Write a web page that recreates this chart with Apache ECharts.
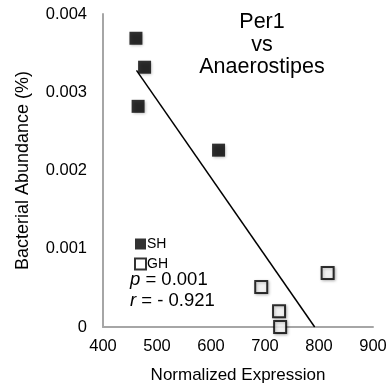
<!DOCTYPE html>
<html>
<head>
<meta charset="utf-8">
<script src="https://cdn.jsdelivr.net/npm/echarts@6/dist/echarts.min.js"></script>
<style>
  html, body { margin: 0; padding: 0; background: #fff; }
  #chart { width: 388px; height: 388px; }
</style>
</head>
<body>
<div id="chart"></div>
<script>
// values
const shPoints = [[461, 0.00369], [477, 0.00332], [465, 0.00282], [614, 0.00226]];
const ghPoints = [[693, 0.00051], [726, 0.0002], [728, 0.0], [816, 0.00069]];
const trendLine = [[462, 0.00328], [792, 0]];
const xTicks = { min: 400, max: 900, step: 100 };
const yTicks = { min: 0, max: 0.004, step: 0.001 };
const titleLines = ['Per1', 'vs', 'Anaerostipes'];
const statLines = { p: '0.001', r: '- 0.921' };

const font = 'Liberation Sans, Arial, sans-serif';
const axisGray = '#a6a6a6';
const markShadow = { shadowBlur: 3, shadowColor: 'rgba(0,0,0,0.35)', shadowOffsetX: 1, shadowOffsetY: 1 };

const chart = echarts.init(document.getElementById('chart'), null, { renderer: 'canvas' });

chart.setOption({
  animation: false,
  backgroundColor: '#fff',
  textStyle: { fontFamily: font },
  legend: {
    orient: 'vertical',
    left: 129,
    top: 232,
    itemWidth: 11,
    itemHeight: 11,
    itemGap: 6,
    icon: 'rect',
    textStyle: { fontSize: 14, color: '#000', padding: [0, 0, 0, -4] },
    data: ['SH', 'GH'],
  },
  grid: {
    left: 103,
    right: 15,
    top: 14,
    bottom: 61,
    outerBoundsMode: 'none',
  },
  xAxis: {
    type: 'value',
    min: xTicks.min,
    max: xTicks.max,
    interval: xTicks.step,
    name: 'Normalized Expression',
    nameLocation: 'middle',
    nameGap: 40,
    nameTextStyle: { fontSize: 17, color: '#000' },
    axisLine: { show: true, lineStyle: { color: axisGray, width: 2 } },
    axisTick: { show: false },
    splitLine: { show: false },
    axisLabel: { fontSize: 16.5, color: '#000', margin: 11 },
  },
  yAxis: {
    type: 'value',
    min: yTicks.min,
    max: yTicks.max,
    interval: yTicks.step,
    name: 'Bacterial Abundance (%)',
    nameLocation: 'middle',
    nameGap: 71,
    nameTextStyle: { fontSize: 18, color: '#000' },
    axisLine: { show: true, lineStyle: { color: axisGray, width: 2 } },
    axisTick: { show: false },
    splitLine: { show: false },
    axisLabel: {
      fontSize: 16.5,
      color: '#000',
      margin: 16,
      formatter: (v) => (v === 0 ? '0' : v.toFixed(3)),
    },
  },
  series: [
    {
      name: 'trend',
      type: 'line',
      data: trendLine,
      symbol: 'none',
      lineStyle: { color: '#000', width: 1.5 },
      z: 1,
    },
    {
      name: 'SH',
      type: 'scatter',
      data: shPoints,
      symbol: 'rect',
      symbolSize: 13,
      itemStyle: { color: '#000', ...markShadow },
      z: 3,
    },
    {
      name: 'GH',
      type: 'scatter',
      data: ghPoints,
      symbol: 'rect',
      symbolSize: 12,
      itemStyle: { color: '#fff', borderColor: '#000', borderWidth: 2, ...markShadow },
      z: 3,
    },
  ],
  graphic: [
    {
      // title, centred over the right half of the plot
      type: 'text',
      x: 262,
      y: 11,
      style: {
        text: titleLines.join('\n'),
        align: 'center',
        fontSize: 21.5,
        lineHeight: 22.5,
        fill: '#000',
        fontFamily: font,
      },
    },
    {
      type: 'text',
      left: 130,
      top: 269,
      style: {
        text: '{i|p} = ' + statLines.p + '\n{i|r} = ' + statLines.r,
        fontSize: 18.5,
        lineHeight: 21,
        fill: '#000',
        fontFamily: font,
        rich: {
          i: { fontStyle: 'italic', fontSize: 18.5, fontFamily: font },
        },
      },
    },
  ],
});
</script>
</body>
</html>
